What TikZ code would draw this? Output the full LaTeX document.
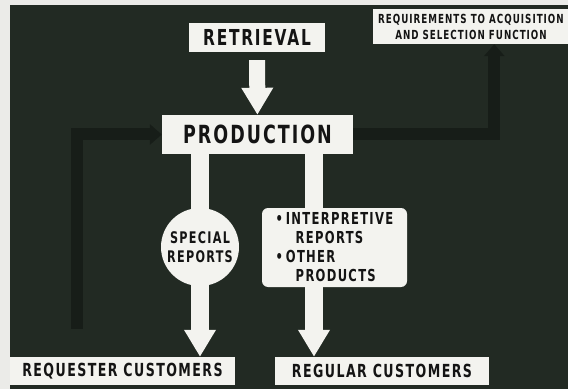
\documentclass[tikz,border=0pt]{standalone}
\usepackage{fontspec}
\usetikzlibrary{arrows.meta, positioning, calc, backgrounds}
\newfontfamily\chartfont{DejaVu Sans}[FakeStretch=0.7, LetterSpace=8]
\definecolor{board}{HTML}{222A23}
\definecolor{cardwhite}{HTML}{F3F3EF}
\definecolor{ink}{HTML}{141414}
\definecolor{groove}{HTML}{171D18}
\definecolor{margin}{HTML}{EBEBE8}

\begin{document}
\begin{tikzpicture}[
    x=1pt, y=1pt,
    font=\chartfont\bfseries,
    plate/.style={fill=cardwhite, text=ink, align=center, inner sep=0pt},
    bigarrow/.style={draw=cardwhite, line width=#1, -{Triangle[width=30pt, length=27pt]}},
    bigarrow/.default=18pt,
    backline/.style={draw=groove, line width=12pt, -{Triangle[width=20pt, length=12pt]}}
]
\useasboundingbox (0,0) rectangle (568,389);

% === TOP: Retrieval and requirements ===
\node[plate, minimum width=136pt, minimum height=29pt, font=\chartfont\bfseries\fontsize{22}{24}\selectfont] (retrieval) at (257,351.5) {RETRIEVAL};
\node[plate, minimum width=196pt, minimum height=35pt, font=\chartfont\bfseries\fontsize{12.5}{16}\selectfont] (requirements) at (471,362.5) {REQUIREMENTS TO ACQUISITION\\AND SELECTION FUNCTION};

% === MIDDLE: Production ===
\node[plate, minimum width=191pt, minimum height=39pt, font=\chartfont\bfseries\fontsize{25}{27}\selectfont] (production) at (257.5,254.5) {PRODUCTION};

% === OUTPUTS ===
\node[plate, circle, minimum size=78pt, font=\chartfont\bfseries\fontsize{16}{19}\selectfont] (special) at (200,142) {SPECIAL\\REPORTS};
\node[plate, rounded corners=6pt, minimum width=145pt, minimum height=79pt, align=left, font=\chartfont\bfseries\fontsize{16.5}{19}\selectfont] (products) at (334.5,141.5) {\textbullet\,INTERPRETIVE\\\hspace*{20pt}REPORTS\\\textbullet\,OTHER\\\hspace*{20pt}PRODUCTS};

% === BOTTOM: Customers ===
\node[plate, minimum width=225pt, minimum height=28pt, font=\chartfont\bfseries\fontsize{18}{20}\selectfont] (requester) at (122.5,18) {REQUESTER CUSTOMERS};
\node[plate, minimum width=214pt, minimum height=28pt, font=\chartfont\bfseries\fontsize{18}{20}\selectfont] (regular) at (382,18) {REGULAR CUSTOMERS};

\coordinate (rightdrop) at ([xshift=56.5pt]production.south);

% === BOARD AND ARROWS ===
\begin{scope}[on background layer]
    \fill[margin] (0,0) rectangle (568,389);
    \fill[board] (10,0) rectangle (568,384);
    % dark loops
    \draw[backline, shorten <=28pt] ([xshift=67pt]requester.north west) |- (production.west);
    \draw[backline] (production.east) -| ([xshift=121.5pt]requirements.south west);
    % white flow
    \draw[bigarrow=16pt, shorten <=8pt] (retrieval) -- (production);
    \draw[bigarrow] (production.south -| special) -- (requester.north -| special);
    \draw[bigarrow] (rightdrop) -- (rightdrop |- regular.north);
\end{scope}

\end{tikzpicture}
\end{document}
